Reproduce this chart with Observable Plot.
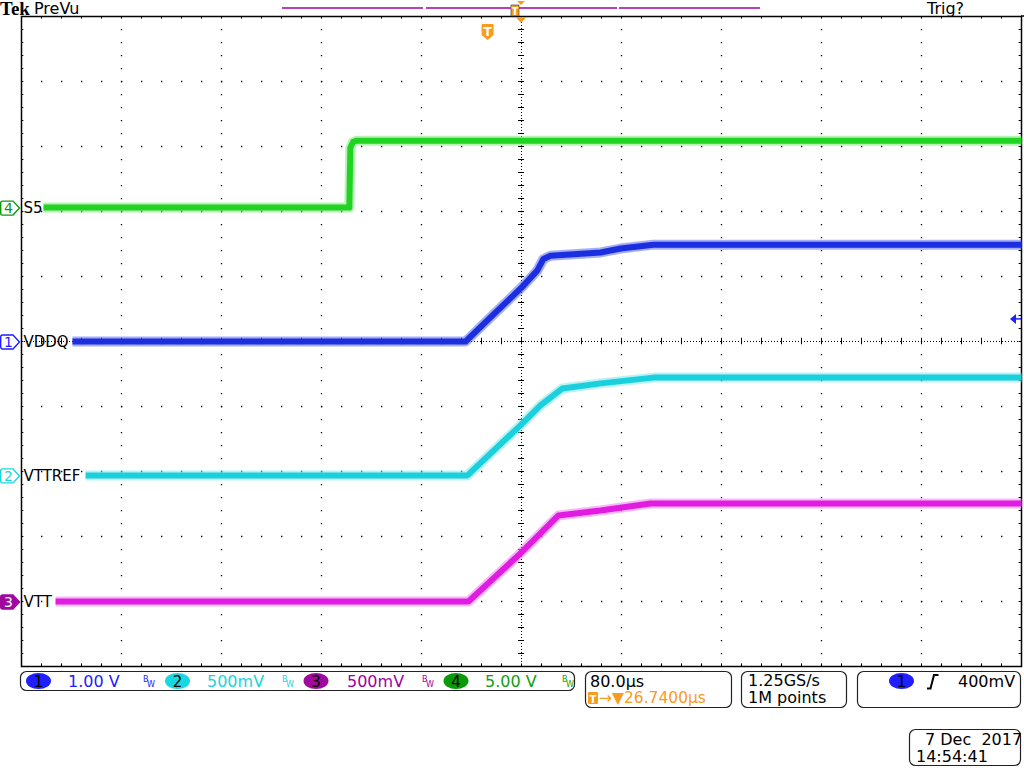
<!DOCTYPE html>
<html><head><meta charset="utf-8">
<script src="https://cdn.jsdelivr.net/npm/d3@7"></script>
<script src="https://cdn.jsdelivr.net/npm/@observablehq/plot@0.6"></script>
<style>
body{margin:0;background:#fff;font-family:"DejaVu Sans",sans-serif;}
svg{display:block}
</style>
</head><body><div id="chart"></div>
<script>
// ---- scope settings ----
const timePerDiv = 80;        // µs / div
const triggerDelay = 26.74;   // µs, screen centre after trigger
const hDivs = 10, vDivs = 10;
const triggerLevelDiv = 0.34; // trigger level marker (ch1)

// ---- channels ----
const channelNums   = [1, 2, 3, 4];
const channelNames  = ["VDDQ", "VTTREF", "VTT", "S5"];
const voltsPerDiv   = [1, 0.5, 0.5, 5];
const voltsLabels   = ["1.00 V", "500mV", "500mV", "5.00 V"];
const positionDiv   = [0, -2.06, -4.0, 2.06];

// ---- traces (time µs from trigger, volts) ----
const vddqT   = [-332.5, -18, 1.9, 27.3, 39.3, 44.3, 49.9, 90, 106, 132.3, 426.74];
const vddqV   = [0, 0, 0.37, 0.84, 1.09, 1.27, 1.32, 1.37, 1.43, 1.49, 1.49];
const vttrefT = [-322, -16.5, 25.9, 41.9, 59.5, 90, 134, 426.74];
const vttrefV = [0, 0, 0.385, 0.538, 0.669, 0.708, 0.754, 0.754];
const vttT    = [-346, -15.7, 25.9, 56.3, 90, 130, 426.74];
const vttV    = [0, 0, 0.37, 0.662, 0.70, 0.754, 0.754];
const s5T     = [-355.7, -111, -110.2, -108, -105, 426.74];
const s5V     = [0, 0, 4.6, 5.05, 5.15, 5.15];

// ---- colours ----
const traceColors  = ["#1c2fe0", "#1ad0dc", "#e01ce0", "#22d422"];
const haloColors   = ["#5d6cf0", "#7fe6ec", "#f07ef0", "#7ce87c"];
const textColors   = ["#2020ff", "#19d3dc", "#a000a0", "#10a010"];
const badgeColors  = ["#1f1fff", "#19d8e0", "#9e0a9e", "#0a9a0a"];
const orange = "#f99b1c";

const traceT = [vddqT, vttrefT, vttT, s5T];
const traceV = [vddqV, vttrefV, vttV, s5V];

const traces = channelNums.map((n, c) => traceT[c].map((t, i) => ({
  ch: n, t, y: positionDiv[c] + traceV[c][i] / voltsPerDiv[c]
})));

const xLeft = triggerDelay - (hDivs / 2) * timePerDiv;
const xRight = triggerDelay + (hDivs / 2) * timePerDiv;
const majorX = d3.range(1, hDivs).map(k => xLeft + k * timePerDiv).filter(t => Math.abs(t - triggerDelay) > 1e-6);
const majorY = d3.range(-vDivs/2 + 1, vDivs/2).filter(v => v !== 0);
const minorX = d3.range(0, hDivs * 5 + 1).map(k => xLeft + k * timePerDiv / 5);
const minorY = d3.range(0, vDivs * 5 + 1).map(k => -vDivs/2 + k / 5);
const tickHalfX = 0.03 * timePerDiv;

const labels = channelNums.map((n, c) => ({name: channelNames[c], y: positionDiv[c]}));

const marks = [
  Plot.ruleY(majorY, {stroke: "black", strokeWidth: 1.3, strokeDasharray: "1.3,18.7"}),
  Plot.ruleX(majorX, {stroke: "black", strokeWidth: 1.3, strokeDasharray: "1.3,11.7"}),
  Plot.ruleY([0], {stroke: "black", strokeWidth: 1, strokeDasharray: "1,2"}),
  Plot.ruleX([triggerDelay], {stroke: "black", strokeWidth: 1, strokeDasharray: "1,2"}),
  Plot.ruleX(minorX, {y1: -0.05, y2: 0.05, stroke: "black"}),
  Plot.ruleY(minorY, {x1: triggerDelay - tickHalfX, x2: triggerDelay + tickHalfX, stroke: "black"}),
  Plot.ruleX(minorX, {y1: vDivs/2, y2: vDivs/2 - 0.04, stroke: "black"}),
  Plot.ruleX(minorX, {y1: -vDivs/2, y2: -vDivs/2 + 0.04, stroke: "black"}),
  Plot.ruleY(minorY, {x1: xLeft, x2: xLeft + tickHalfX * 0.8, stroke: "black"}),
  Plot.ruleY(minorY, {x1: xRight, x2: xRight - tickHalfX * 0.8, stroke: "black"}),
  Plot.frame({stroke: "black", strokeWidth: 1.5})
];
traces.forEach((data, c) => {
  marks.push(Plot.line(data, {x: "t", y: "y", stroke: haloColors[c], strokeWidth: 10, strokeOpacity: 0.55, strokeLinecap: "butt"}));
  marks.push(Plot.line(data, {x: "t", y: "y", stroke: traceColors[c], strokeWidth: 6, strokeLinecap: "butt"}));
});
marks.push(Plot.text(labels, {x: () => xLeft, y: "y", text: "name", textAnchor: "start", dx: 2, dy: 1,
    fontSize: 15, fill: "black", fontFamily: "DejaVu Sans"}));

const plot = Plot.plot({
  width: 1024, height: 768,
  marginLeft: 21, marginRight: 3, marginTop: 16, marginBottom: 102,
  x: {domain: [xLeft, xRight], axis: null},
  y: {domain: [-vDivs/2, vDivs/2], axis: null},
  style: {background: "white", fontFamily: "DejaVu Sans", overflow: "visible"},
  marks
});
document.getElementById("chart").append(plot);

const svg = d3.select(plot);
const sx = v => plot.scale("x").apply(v);
const sy = v => plot.scale("y").apply(v);
const g = svg.append("g").attr("font-family", "DejaVu Sans").attr("text-anchor", "start");

function txt(x, y, s, size, fill, opts = {}) {
  const t = g.append("text").attr("x", x).attr("y", y).attr("font-size", size).attr("fill", fill)
    .attr("text-anchor", "start").text(s);
  for (const k in opts) t.attr(k, opts[k]);
  return t;
}

// header
txt(0, 15, "Tek", 19, "black", {"font-family": "Liberation Serif", "font-weight": "bold"});
txt(34, 14, "PreVu", 16, "black");
txt(927, 14, "Trig?", 16, "black");
g.append("line").attr("x1", 1021).attr("x2", 1024).attr("y1", 16).attr("y2", 16).attr("stroke", "black").attr("stroke-width", 1.5);
// record-view bar
[[282, 423], [426, 617], [619, 760]].forEach(([a, b]) =>
  g.append("line").attr("x1", a).attr("x2", b).attr("y1", 8).attr("y2", 8).attr("stroke", "#a000a0").attr("stroke-width", 1.3));
// small T in record view
g.append("rect").attr("x", 511).attr("y", 5).attr("width", 8).attr("height", 11).attr("fill", orange).attr("stroke", "#333").attr("stroke-width", 0.6);
txt(515, 14.5, "T", 10, "white", {"text-anchor": "middle", "font-weight": "bold"});
// expansion point triangles
const cx = sx(triggerDelay);
g.append("path").attr("d", `M${cx-4},1L${cx+4},1L${cx},5Z`).attr("fill", orange);
g.append("path").attr("d", `M${cx-5.5},17L${cx+5.5},17L${cx},23Z`).attr("fill", orange);
// trigger position shield
const tx = sx(0);
g.append("path").attr("d", `M${tx-6},25Q${tx-6},24 ${tx-5},24H${tx+5}Q${tx+6},24 ${tx+6},25V35L${tx},40L${tx-6},35Z`).attr("fill", orange);
txt(tx, 36, "T", 12, "white", {"text-anchor": "middle", "font-weight": "bold"});

// channel markers on the left
channelNums.forEach((n, c) => {
  const y = sy(positionDiv[c]) + 1;
  const filled = n === 3;
  const col = badgeColors[c];
  g.append("path").attr("d", `M2.5,${y-7}H13L19.5,${y}L13,${y+7}H2.5Q0.7,${y+7} 0.7,${y+5}V${y-5}Q0.7,${y-7} 2.5,${y-7}Z`)
    .attr("fill", filled ? col : "white").attr("stroke", col).attr("stroke-width", 1.4);
  txt(8.5, y + 5, String(n), 14, filled ? "white" : col, {"text-anchor": "middle"});
});

// trigger level arrow on the right
const ty = sy(triggerLevelDiv);
g.append("path").attr("d", `M1010,${ty}L1016,${ty-5}L1016,${ty+5}Z`).attr("fill", badgeColors[0]);
g.append("line").attr("x1", 1014).attr("x2", 1021).attr("y1", ty).attr("y2", ty).attr("stroke", badgeColors[0]).attr("stroke-width", 1.5);

// status boxes
function box(x, y, w, h) {
  g.append("rect").attr("x", x).attr("y", y).attr("width", w).attr("height", h).attr("rx", 6)
    .attr("fill", "white").attr("stroke", "#222").attr("stroke-width", 1.2);
}
function badge(x, y, n, col) {
  g.append("ellipse").attr("cx", x).attr("cy", y).attr("rx", 12.5).attr("ry", 8).attr("fill", col);
  txt(x, y + 5.5, String(n), 15, "black", {"text-anchor": "middle"});
}
function bw(x, col) {
  txt(x, 682, "B", 8, col);
  txt(x + 4, 687, "W", 8, col);
}
box(20.5, 671.5, 554, 19);
const badgeX = [38.5, 177.5, 316, 456];
const voltX = [68, 207, 347, 485];
const bwX = [143, 282, 422, 562];
channelNums.forEach((n, c) => {
  badge(badgeX[c], 681, n, badgeColors[c]);
  txt(voltX[c], 687, voltsLabels[c], 16, textColors[c]);
  bw(bwX[c], textColors[c]);
});
box(585.5, 671.5, 146, 36);
txt(590, 687, "80.0µs", 16, "black");
g.append("rect").attr("x", 588).attr("y", 692).attr("width", 10).attr("height", 12).attr("rx", 1).attr("fill", orange);
txt(593, 702.5, "T", 10, "white", {"text-anchor": "middle", "font-weight": "bold"});
txt(599, 703, "→▼26.7400µs", 15.5, orange);
box(741.5, 671.5, 105, 36);
txt(748, 686, "1.25GS/s", 16, "black");
txt(748, 703, "1M points", 16, "black");
box(857.5, 671.5, 163, 36);
badge(901.5, 681, 1, badgeColors[0]);
g.append("path").attr("d", "M927,688.5H930.5L934,675H938.5").attr("fill", "none").attr("stroke", "black").attr("stroke-width", 2);
txt(958, 687, "400mV", 16, "black");
box(909.5, 729.5, 111, 36);
txt(925, 745, "7 Dec  2017", 16, "black", {"style": "white-space:pre"});
txt(916, 762, "14:54:41", 16, "black");
</script>
</body></html>
